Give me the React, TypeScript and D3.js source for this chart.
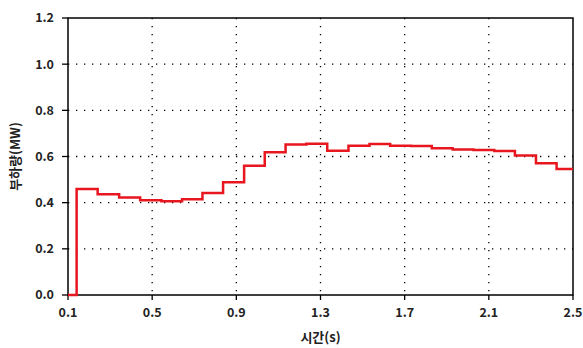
import React from "react";
import * as d3 from "d3";

// step change times (s) and load after each step (MW)
const stepTimes = [0.1, 0.141, 0.241, 0.343, 0.443, 0.544, 0.642, 0.739, 0.837, 0.937, 1.035, 1.134, 1.233, 1.332, 1.433, 1.533, 1.631, 1.73, 1.829, 1.928, 2.027, 2.126, 2.224, 2.324, 2.422];
const loadValues = [0.0, 0.459, 0.436, 0.422, 0.41, 0.406, 0.415, 0.442, 0.488, 0.56, 0.618, 0.652, 0.655, 0.625, 0.647, 0.654, 0.647, 0.645, 0.636, 0.63, 0.628, 0.624, 0.604, 0.571, 0.546];
const endTime = 2.5;

const xTicks = [0.1, 0.5, 0.9, 1.3, 1.7, 2.1, 2.5];
const yTicks = [0, 0.2, 0.4, 0.6, 0.8, 1.0, 1.2];

const App = () => {
  const width = 583,
    height = 348,
    left = 68,
    right = 573,
    top = 18,
    bottom = 295;

  const x = d3.scaleLinear().domain([0.1, 2.5]).range([left, right]);
  const y = d3.scaleLinear().domain([0, 1.2]).range([bottom, top]);

  const pts: [number, number][] = stepTimes.map((t, i) => [t, loadValues[i]]);
  pts.push([endTime, loadValues[loadValues.length - 1]]);

  const line = d3
    .line<[number, number]>()
    .x((d) => x(d[0]))
    .y((d) => y(d[1]))
    .curve(d3.curveStepAfter);

  const font = "'Noto Sans CJK KR', 'Noto Sans', sans-serif";

  return (
    <svg width={width} height={height} style={{ position: "absolute", left: 0, top: 0 }}>
      <rect width={width} height={height} fill="#fff" />
      {/* grid */}
      {xTicks.slice(1, -1).map((t) => (
        <line key={"gx" + t} x1={x(t)} x2={x(t)} y1={top} y2={bottom} stroke="#000" strokeWidth={1.3} strokeDasharray="1.3,6.7" />
      ))}
      {yTicks.slice(1, -1).map((t) => (
        <line key={"gy" + t} x1={left} x2={right} y1={y(t)} y2={y(t)} stroke="#000" strokeWidth={1.3} strokeDasharray="1.3,6.7" />
      ))}
      {/* frame */}
      <rect x={left} y={top} width={right - left} height={bottom - top} fill="none" stroke="#000" strokeWidth={1.5} />
      {/* ticks */}
      {yTicks.map((t) => (
        <g key={"ty" + t}>
          <line x1={left - 6} x2={left} y1={y(t)} y2={y(t)} stroke="#000" strokeWidth={1.3} />
          <text x={left - 14} y={y(t)} dy="0.35em" textAnchor="end" fontFamily={font} fontSize={12.5} fontWeight="bold" fill="#222">
            {t.toFixed(1)}
          </text>
        </g>
      ))}
      {xTicks.map((t) => (
        <g key={"tx" + t}>
          <line x1={x(t)} x2={x(t)} y1={bottom} y2={bottom + 5} stroke="#000" strokeWidth={1.3} />
          <text x={x(t)} y={bottom + 22} textAnchor="middle" fontFamily={font} fontSize={12.5} fontWeight="bold" fill="#222">
            {t.toFixed(1)}
          </text>
        </g>
      ))}
      {/* data */}
      <path d={line(pts) || ""} fill="none" stroke="#e8161e" strokeWidth={2.5} />
      {/* titles */}
      <text x={(left + right) / 2} y={342} textAnchor="middle" fontFamily={font} fontSize={13} fontWeight="bold" fill="#222">
        시간(s)
      </text>
      <text transform={`translate(20, ${(top + bottom) / 2}) rotate(-90)`} textAnchor="middle" fontFamily={font} fontSize={13} fontWeight="bold" fill="#222">
        부하량(MW)
      </text>
    </svg>
  );
};

export default App;
